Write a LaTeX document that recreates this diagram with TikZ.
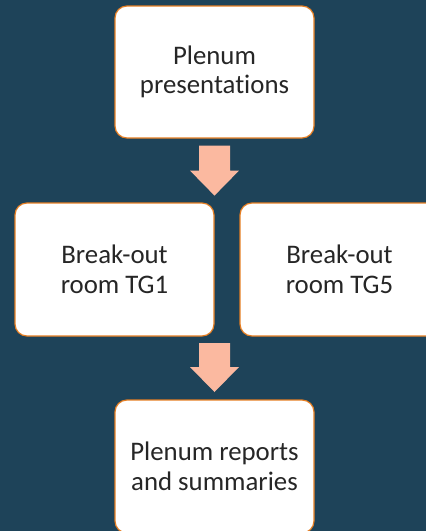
\documentclass[tikz,border=0pt]{standalone}
\usepackage{fontspec}
\setmainfont[Ligatures={NoCommon}]{Carlito}
\usetikzlibrary{calc}
\definecolor{bgteal}{RGB}{30,67,89}
\definecolor{boxedge}{RGB}{230,126,34}
\definecolor{arrowfill}{RGB}{251,185,160}
\definecolor{txt}{RGB}{38,38,38}
\tikzset{
  stepbox/.style={draw=boxedge, line width=1.2pt, fill=white, rounded corners=12pt,
    minimum width=199pt, minimum height=133pt, inner sep=0pt, align=center,
    text=txt, font=\fontsize{26.8}{29.5}\selectfont},
  blockarrow/.style={fill=arrowfill, draw=none}
}
\begin{document}
\begin{tikzpicture}[x=1pt,y=-1pt]
\fill[bgteal] (0,0) rectangle (426,531);
\useasboundingbox (0,0) rectangle (426,531);
\begin{scope}
\clip (0,0) rectangle (426,531);
\node[stepbox, minimum height=132pt] (top) at (214.5,72) {Plenum\\presentations};
\node[stepbox] (tg1) at (114.5,269.5) {Break-out\\room TG1};
\node[stepbox] (tg5) at (339.5,269.5) {Break-out\\room TG5};
\node[stepbox] (bot) at (214.5,466.5) {Plenum reports\\and summaries};
% block arrows
\fill[blockarrow] ($(top.south)+(-15.5,7)$) -- ($(top.south)+(15.5,7)$) -- ($(top.south)+(15.5,32)$)
  -- ($(top.south)+(24.5,32)$) -- ($(top.south)+(0,57)$) -- ($(top.south)+(-24.5,32)$)
  -- ($(top.south)+(-15.5,32)$) -- cycle;
\coordinate (mid) at (214.5,336);
\fill[blockarrow] ($(mid)+(-15.5,7)$) -- ($(mid)+(15.5,7)$) -- ($(mid)+(15.5,31)$)
  -- ($(mid)+(24.5,31)$) -- ($(mid)+(0,56)$) -- ($(mid)+(-24.5,31)$)
  -- ($(mid)+(-15.5,31)$) -- cycle;
\end{scope}
\end{tikzpicture}
\end{document}
